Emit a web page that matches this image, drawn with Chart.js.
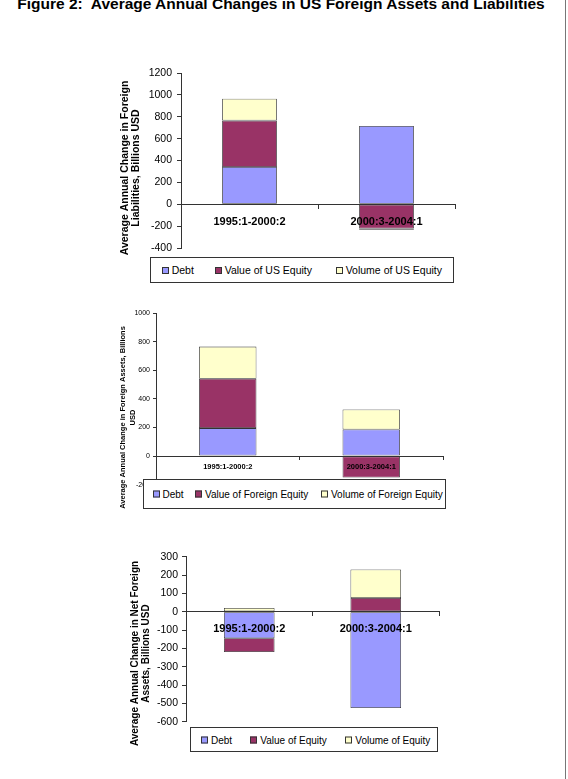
<!DOCTYPE html>
<html>
<head>
<meta charset="utf-8">
<script src="https://cdn.jsdelivr.net/npm/chart.js@4.4.1/dist/chart.umd.min.js"></script>
<style>
  html, body { margin: 0; padding: 0; background: #fff; }
  body { width: 568px; height: 779px; position: relative; overflow: hidden; font-family: "Liberation Sans", Arial, sans-serif; }
  .fig-title { position: absolute; left: 0; width: 562px; top: -4px; text-align: center; font-weight: bold; font-size: 15.5px; line-height: 15.5px; white-space: nowrap; }
  .edge { position: absolute; left: 565px; top: 0; width: 1px; height: 779px; background: #777; }
  canvas { position: absolute; left: 0; }
  .legend { position: absolute; box-sizing: border-box; border: 1px solid #333; background: #fff; color: #000; }
  .legend .item { position: absolute; top: 50%; transform: translateY(-50%); display: flex; align-items: center; white-space: nowrap; }
  .legend .sw { width: 7px; height: 7px; border: 1px solid #333; box-sizing: border-box; margin-right: 3px; }
</style>
</head>
<body>
<div class="fig-title">Figure 2:&nbsp; Average Annual Changes in US Foreign Assets and Liabilities</div>
<div class="edge"></div>
<canvas id="liab" width="568" height="200" style="top:60px"></canvas>
<canvas id="assets" width="568" height="215" style="top:300px"></canvas>
<canvas id="net" width="568" height="212" style="top:540px"></canvas>
<script>
const categories = ['1995:1-2000:2', '2000:3-2004:1'];

// foreign liabilities, billions USD
const liabLabels = ['Debt', 'Value of US Equity', 'Volume of US Equity'];
const liabDebt = [340, 715];
const liabValue = [425, -222];
const liabVolume = [200, -12];

// foreign assets
const assetLabels = ['Debt', 'Value of Foreign Equity', 'Volume of Foreign Equity'];
const assetDebt = [195, 185];
const assetValue = [345, -150];
const assetVolume = [225, 140];

// net foreign assets
const netLabels = ['Debt', 'Value of Equity', 'Volume of Equity'];
const netDebt = [-145, -525];
const netValue = [-75, 75];
const netVolume = [20, 155];

const COLORS = ['#9999FF', '#993366', '#FFFFCC'];
const AXIS = '#333';

Chart.defaults.font.family = '"Liberation Sans", Arial, sans-serif';
Chart.defaults.color = '#000';

// rotated two-line axis title, placed like the Excel original
const yTitle = {
  id: 'yTitle',
  afterDraw(chart, args, o) {
    if (!o || !o.lines) return;
    const ctx = chart.ctx;
    ctx.save();
    ctx.font = o.font;
    ctx.fillStyle = '#000';
    ctx.textAlign = 'center';
    ctx.textBaseline = 'middle';
    o.lines.forEach((t, i) => {
      ctx.save();
      ctx.translate(o.x + i * o.lineHeight, o.y);
      ctx.rotate(-Math.PI / 2);
      ctx.fillText(t, 0, 0);
      ctx.restore();
    });
    ctx.restore();
  },
};
Chart.register(yTitle);

function makeChart(id, labels, series, s) {
  return new Chart(document.getElementById(id), {
    type: 'bar',
    data: {
      labels: categories,
      datasets: series.map((data, i) => ({
        label: labels[i],
        data,
        backgroundColor: COLORS[i],
        borderColor: '#333',
        borderWidth: 0.8,
        borderSkipped: false,
        barPercentage: 0.4,
        categoryPercentage: 1,
      })),
    },
    options: {
      responsive: false,
      animation: false,
      events: [],
      layout: { padding: s.padding },
      plugins: {
        legend: { display: false },
        tooltip: { enabled: false },
        yTitle: s.title,
      },
      scales: {
        x: {
          stacked: true,
          position: { y: 0 },
          offset: true,
          // axis line and category labels sit on top of the bars
          border: { display: true, color: AXIS, width: 1, z: 1 },
          grid: { display: true, drawOnChartArea: false, drawTicks: true, tickLength: s.tickLen, color: AXIS, offset: true },
          ticks: { z: 1, color: '#000', font: { size: s.catSize, weight: 'bold' }, padding: s.catPad, maxRotation: 0, autoSkip: false },
        },
        y: {
          stacked: true,
          min: s.min,
          max: s.max,
          afterFit: sc => { sc.width = s.yWidth; },
          border: { display: true, color: AXIS, width: 1 },
          grid: { display: true, drawOnChartArea: false, drawTicks: true, tickLength: s.tickLen, color: AXIS },
          ticks: { stepSize: s.step, color: '#000', font: { size: s.tickSize }, padding: s.tickPad, autoSkip: false, callback: v => String(v) },
        },
      },
    },
  });
}

function makeLegend(box, labels, lefts, fontSize) {
  const el = document.createElement('div');
  el.className = 'legend';
  Object.assign(el.style, {
    left: box[0] + 'px', top: box[1] + 'px',
    width: box[2] + 'px', height: box[3] + 'px',
    fontSize: fontSize + 'px',
  });
  labels.forEach((t, i) => {
    const item = document.createElement('div');
    item.className = 'item';
    item.style.left = lefts[i] + 'px';
    const sw = document.createElement('span');
    sw.className = 'sw';
    sw.style.background = COLORS[i];
    const txt = document.createElement('span');
    txt.textContent = t;
    item.appendChild(sw);
    item.appendChild(txt);
    el.appendChild(item);
  });
  document.body.appendChild(el);
}

makeChart('liab', liabLabels, [liabDebt, liabValue, liabVolume], {
  padding: { left: 0, right: 113, top: 13, bottom: 12 },
  yWidth: 181, min: -400, max: 1200, step: 200,
  tickSize: 10.5, tickLen: 4, tickPad: 5, catSize: 11, catPad: 7,
  title: { lines: ['Average Annual Change in Foreign', 'Liabilities, Billions USD'], x: 125, y: 108, font: 'bold 10.5px "Liberation Sans", Arial, sans-serif', lineHeight: 11 },
});

makeChart('assets', assetLabels, [assetDebt, assetValue, assetVolume], {
  padding: { left: 0, right: 125, top: 13, bottom: 30.4 },
  yWidth: 156, min: -200, max: 1000, step: 200,
  tickSize: 7, tickLen: 3, tickPad: 3, catSize: 7.5, catPad: 3.5,
  title: { lines: ['Average Annual Change in Foreign Assets, Billions', 'USD'], x: 123, y: 117.5, font: 'bold 7.5px "Liberation Sans", Arial, sans-serif', lineHeight: 10 },
});

makeChart('net', netLabels, [netDebt, netValue, netVolume], {
  padding: { left: 0, right: 129, top: 16.7, bottom: 30.3 },
  yWidth: 186, min: -600, max: 300, step: 100,
  tickSize: 10.5, tickLen: 4, tickPad: 4, catSize: 11, catPad: 6.7,
  title: { lines: ['Average Annual Change in Net Foreign', 'Assets, Billions USD'], x: 135, y: 113.5, font: 'bold 10px "Liberation Sans", Arial, sans-serif', lineHeight: 11 },
});

makeLegend([150, 257, 304, 26], liabLabels, [10.7, 63.7, 184.7], 10.5);
makeLegend([143, 479, 303, 30], assetLabels, [8.5, 51, 177], 10);
makeLegend([190, 727, 248, 25], netLabels, [10, 59.3, 154.3], 10);
</script>
</body>
</html>
